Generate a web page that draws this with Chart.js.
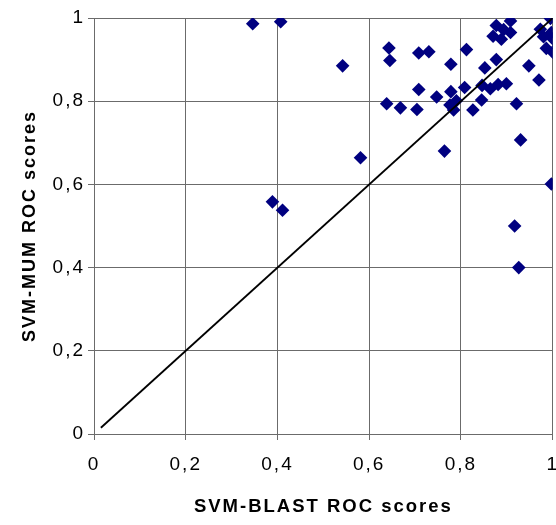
<!DOCTYPE html>
<html>
<head>
<meta charset="utf-8">
<script src="https://cdn.jsdelivr.net/npm/chart.js@4"></script>
<style>
html,body{margin:0;padding:0;background:#fff;overflow:hidden;}
#wrap{width:572px;height:525px;position:relative;}
</style>
</head>
<body>
<div id="wrap"><canvas id="c"></canvas></div>
<script>
// SVM-BLAST ROC scores (x) vs SVM-MUM ROC scores (y)
const blastScores = [
  0.346, 0.407, 0.542, 0.643, 0.645, 0.638, 0.708, 0.730, 0.778, 0.812,
  0.877, 0.908, 0.870, 0.888, 0.908, 0.893, 0.877, 0.852, 0.948, 0.970,
  0.973, 0.995, 0.980, 0.986, 1.000, 1.000, 0.997, 0.708, 0.747, 0.778,
  0.808, 0.846, 0.864, 0.881, 0.899, 0.668, 0.704, 0.784, 0.776, 0.790,
  0.845, 0.826, 0.921, 0.930, 0.764, 0.581, 0.997, 0.917, 0.926, 0.389,
  0.411
];
const mumScores = [
  0.986, 0.991, 0.885, 0.928, 0.898, 0.794, 0.916, 0.919, 0.889, 0.924,
  0.982, 0.993, 0.956, 0.949, 0.965, 0.972, 0.900, 0.880, 0.885, 0.851,
  0.973, 0.999, 0.955, 0.927, 0.950, 0.918, 0.965, 0.828, 0.810, 0.823,
  0.833, 0.838, 0.830, 0.840, 0.842, 0.784, 0.780, 0.779, 0.791, 0.801,
  0.803, 0.779, 0.794, 0.707, 0.680, 0.664, 0.601, 0.500, 0.400, 0.558,
  0.538
];
const diagonalX = [0.015, 1];
const diagonalY = [0.015, 1];
const xTitle = 'SVM-BLAST ROC scores';
const yTitle = 'SVM-MUM ROC scores';

const points = blastScores.map((x, i) => ({x: x, y: mumScores[i]}));
const diag = diagonalX.map((x, i) => ({x: x, y: diagonalY[i]}));

const fmt = v => String(Math.round(v * 10) / 10).replace('.', ',');
const gridColor = '#6b6b6b';
const tickFont = {family: 'Arial, "Liberation Sans", sans-serif', size: 19};
const xTitleFont = {family: 'Arial, "Liberation Sans", sans-serif', size: 18.5, weight: 'bold'};
const yTitleFont = {family: 'Arial, "Liberation Sans", sans-serif', size: 18, weight: 'bold'};

const spacing = {
  id: 'spacing',
  beforeLayout(chart) { chart.ctx.letterSpacing = '2px'; },
  beforeDraw(chart) { chart.ctx.letterSpacing = '2px'; }
};

new Chart(document.getElementById('c'), {
  type: 'scatter',
  plugins: [spacing],
  data: {
    datasets: [
      {
        data: diag,
        showLine: true,
        borderColor: '#000',
        borderWidth: 1.8,
        pointRadius: 0,
        fill: false,
        order: 0
      },
      {
        data: points,
        pointStyle: 'rectRot',
        pointRadius: 6.8,
        pointBorderWidth: 0,
        backgroundColor: '#000080',
        borderColor: '#000080',
        order: 1
      }
    ]
  },
  options: {
    responsive: true,
    maintainAspectRatio: false,
    animation: false,
    layout: {padding: {top: 18, right: 5, bottom: 0, left: 0}},
    plugins: {legend: {display: false}, tooltip: {enabled: false}},
    scales: {
      x: {
        type: 'linear', min: 0, max: 1,
        afterFit: s => { s.height = 91; },
        ticks: {stepSize: 0.2, callback: fmt, color: '#000', font: tickFont, padding: 13, maxRotation: 0},
        grid: {color: gridColor, lineWidth: 1, tickLength: 6},
        border: {color: gridColor, width: 1},
        title: {display: true, text: xTitle, color: '#000', font: xTitleFont, padding: {top: 0, bottom: 7}}
      },
      y: {
        type: 'linear', min: 0, max: 1,
        afterFit: s => { s.width = 94; },
        ticks: {stepSize: 0.2, callback: fmt, color: '#000', font: tickFont, padding: 3},
        grid: {color: gridColor, lineWidth: 1, tickLength: 6},
        border: {color: gridColor, width: 1},
        title: {display: true, text: yTitle, color: '#000', font: yTitleFont, padding: {top: 19, bottom: 0}}
      }
    }
  }
});
</script>
</body>
</html>
